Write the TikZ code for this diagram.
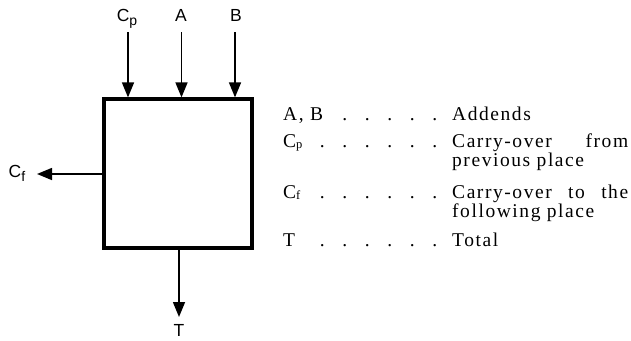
\documentclass[tikz,border=0pt]{standalone}
\usepackage{fontspec}
\setmainfont{Liberation Serif}
\newfontfamily\lblfont{Liberation Sans}
\newfontfamily\legfont[LetterSpace=8]{Liberation Serif}
\usetikzlibrary{arrows.meta}
\newcommand{\dotrow}{\leaders\hbox to 22.5pt{\hss.\hss}\hfill}
\newcommand{\legleft}[1]{\hbox to 180pt{\hskip17.25pt #1\dotrow}}
\begin{document}
\begin{tikzpicture}[x=1pt,y=-1pt,
  lbl/.style={inner sep=0pt,font=\lblfont\fontsize{17.5}{17.5}\selectfont},
  leg/.style={inner sep=0pt,anchor=base west,font=\legfont\fontsize{19.5}{20}\selectfont},
  inarrow/.style={line width=1.5pt,-{Triangle[length=15pt,width=12pt]}},
  blockbox/.style={draw,line width=3.2pt,minimum width=148pt,minimum height=149pt,inner sep=0pt}]
\useasboundingbox (0,0) rectangle (631,340);
% block
\node[blockbox] (blk) at (178,173.5) {};
% input labels
\node[lbl,anchor=base] (cp) at (127,21) {C\raisebox{-4.5pt}{\fontsize{14}{14}\selectfont p}};
\node[lbl,anchor=base] (a) at (181,21) {A};
\node[lbl,anchor=base] (b) at (236,21) {B};
\coordinate (cpS) at (128,32);
\coordinate (aS) at (181.5,32);
\coordinate (bS) at (235,32);
\draw[inarrow] (cpS) -- (cpS |- blk.north);
\draw[inarrow] (aS) -- (aS |- blk.north);
\draw[inarrow] (bS) -- (bS |- blk.north);
% carry out
\node[lbl,anchor=base] (cf) at (17,177) {C\raisebox{-4pt}{\fontsize{14}{14}\selectfont f}};
\coordinate (cfE) at (37,174);
\draw[inarrow] (blk.west |- cfE) -- (cfE);
% total
\node[lbl,anchor=base] (t) at (179,336) {T};
\coordinate (tE) at (179,317);
\draw[inarrow] (blk.south -| tE) -- (tE);
% legend
\node[leg] (l1) at (265.75,120) {\legleft{A, B}};
\node[leg] (r1) at (452,120) {Addends};
\node[leg] (l2) at (265.75,147) {\legleft{C\raisebox{-1.5pt}{\fontsize{12.5}{12.5}\selectfont p}}};
\node[leg] (r2) at (452,147) {\hbox to 176pt{Carry-over\hfill from}};
\node[leg] (r2b) at (452,166) {previous place};
\node[leg] (l3) at (265.75,198) {\legleft{C\raisebox{-1.5pt}{\fontsize{12.5}{12.5}\selectfont f}}};
\node[leg] (r3) at (452,198) {\hbox to 176pt{Carry-over\hfill to\hfill the}};
\node[leg] (r3b) at (452,217) {following place};
\node[leg] (l4) at (265.75,246) {\legleft{T}};
\node[leg] (r4) at (452,246) {Total};
\end{tikzpicture}
\end{document}
